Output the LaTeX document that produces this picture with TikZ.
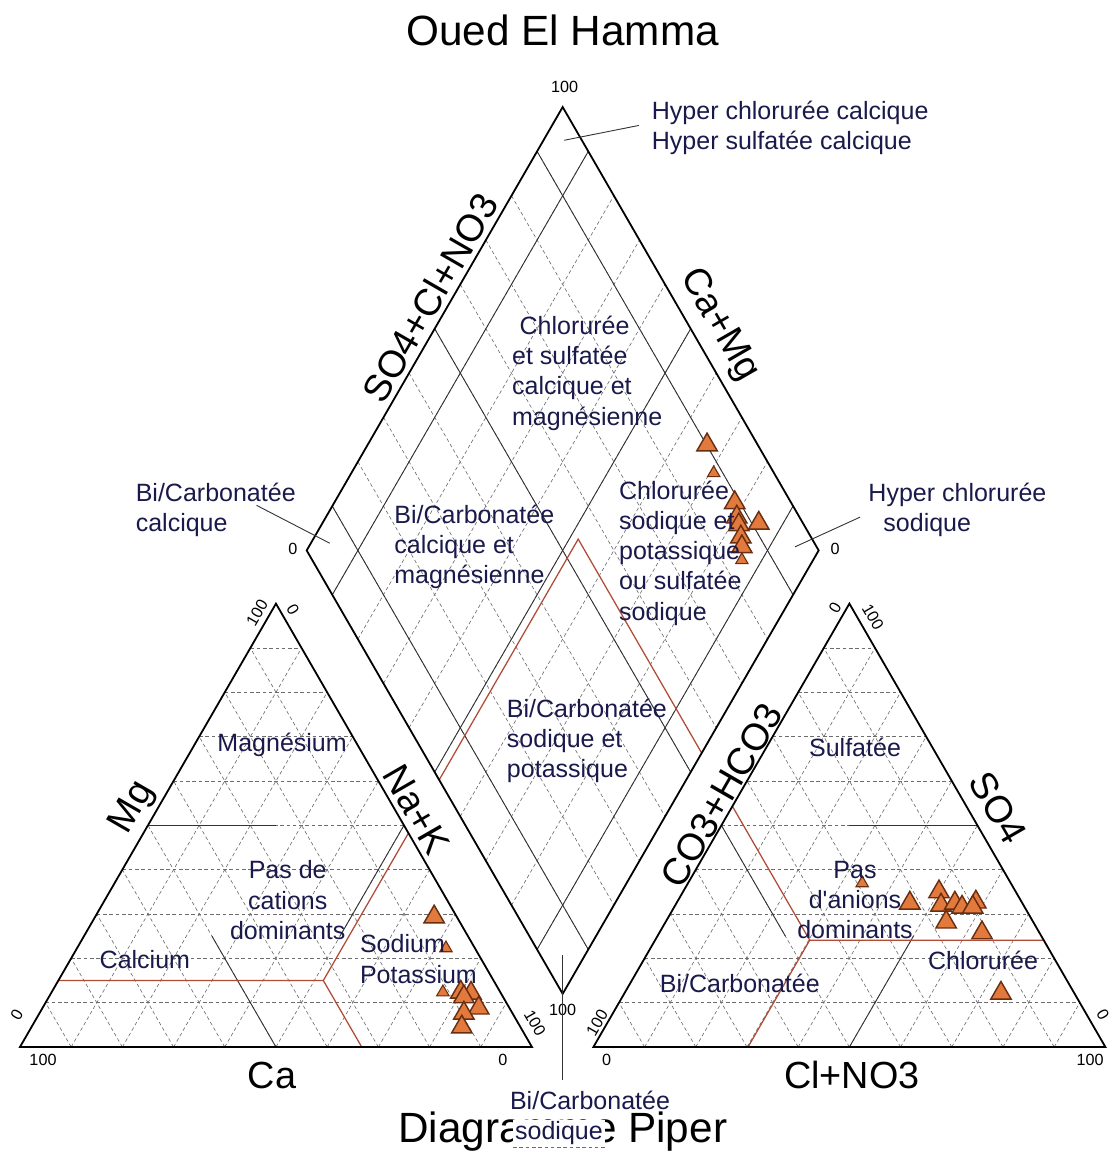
\documentclass[tikz,border=0pt]{standalone}
\usepackage{fontspec}
\setmainfont{Liberation Sans}
\usepackage{tikz}
\usetikzlibrary{calc,shapes}
\definecolor{navy}{RGB}{25,25,75}
\definecolor{ptfill}{RGB}{226,122,62}
\definecolor{ptdraw}{RGB}{105,45,15}
\definecolor{redline}{RGB}{175,75,55}
\tikzstyle{rim}=[black, line width=1pt, line join=miter]
\tikzstyle{gridline}=[gray!85!black, line width=0.35pt, dash pattern=on 2pt off 1.5pt]
\tikzstyle{bound}=[gray!40!black, line width=0.5pt]
\tikzstyle{field}=[redline, line width=0.7pt]
\tikzstyle{leader}=[gray!40!black, line width=0.5pt]
\tikzstyle{zone}=[text=navy, font=\fontsize{13.9}{16.8}\selectfont, inner sep=1pt]
\tikzstyle{axlbl}=[font=\fontsize{21}{21}\selectfont, inner sep=1pt]
\tikzstyle{ticklbl}=[font=\fontsize{9}{9}\selectfont, inner sep=0pt]
\tikzstyle{sample}=[regular polygon, regular polygon sides=3, draw=ptdraw, fill=ptfill,% orange markers
line width=0.8pt, minimum size=4.6mm, inner sep=0pt]
\tikzstyle{smallsample}=[sample, minimum size=2.8mm, line width=0.6pt]

\begin{document}
\begin{tikzpicture}
\useasboundingbox (-0.39,-2.07) rectangle (21.39,20.45);
% corners of the three fields
\coordinate (ca) at (0,0);
\coordinate (na) at (10,0);
\coordinate (mg) at (5,8.660);
\coordinate (hco) at (11.2,0);
\coordinate (cl) at (21.2,0);
\coordinate (so) at (16.2,8.660);
\coordinate (db) at (10.6,1.039);
\coordinate (dl) at (5.6,9.699);
\coordinate (dt) at (10.6,18.359);
\coordinate (dr) at (15.6,9.699);

% dashed 10% grid
\foreach \i in {1,...,9}{
  \draw[gridline] ($(ca)!\i/10!(mg)$) -- ($(na)!\i/10!(mg)$);
  \draw[gridline] ($(ca)!\i/10!(na)$) -- ($(mg)!\i/10!(na)$);
  \draw[gridline] ($(ca)!\i/10!(na)$) -- ($(ca)!\i/10!(mg)$);
  \draw[gridline] ($(hco)!\i/10!(so)$) -- ($(cl)!\i/10!(so)$);
  \draw[gridline] ($(hco)!\i/10!(cl)$) -- ($(so)!\i/10!(cl)$);
  \draw[gridline] ($(hco)!\i/10!(cl)$) -- ($(hco)!\i/10!(so)$);
  \draw[gridline] ($(dl)!\i/10!(dt)$) -- ($(db)!\i/10!(dr)$);
  \draw[gridline] ($(db)!\i/10!(dl)$) -- ($(dr)!\i/10!(dt)$);
}

% facies boundaries
\foreach \f in {0.1,0.5,0.9}{
  \draw[bound] ($(dl)!\f!(dt)$) -- ($(db)!\f!(dr)$);
  \draw[bound] ($(db)!\f!(dl)$) -- ($(dr)!\f!(dt)$);
}
\draw[bound] (2.5,4.330) -- (5,4.330);
\draw[bound] (5,0) -- (3.75,2.165);
\draw[bound] (6.25,2.165) -- (7.5,4.330);
\draw[bound] (16.2,4.330) -- (18.7,4.330);
\draw[bound] (16.2,0) -- (17.45,2.165);
\draw[bound] (13.7,4.330) -- (14.95,2.165);

% red lines
\draw[field] (0.75,1.299) -- (5.925,1.299) -- (6.675,0);
\draw[field] (5.925,1.299) -- (7.588,4.178);
\draw[field] (8.188,5.217) -- (10.903,9.920) -- (13.315,5.741);
\draw[field] (13.915,4.702) -- (15.425,2.087) -- (19.995,2.087);
\draw[field] (15.425,2.087) -- (14.22,0);

% outlines
\draw[rim] (ca) -- (na) -- (mg) -- cycle;
\draw[rim] (hco) -- (cl) -- (so) -- cycle;
\draw[rim] (db) -- (dr) -- (dt) -- (dl) -- cycle;

% samples
\foreach \x/\y [count=\k] in {13.42/11.76,13.96/10.63,14.00/10.35,14.43/10.23,14.04/10.20,14.08/9.96,14.10/9.77}
  \node[sample] (dia\k) at (\x,\y) {};
\foreach \x/\y [count=\k] in {13.55/11.21,14.10/9.51}
  \node[smallsample] (dias\k) at (\x,\y) {};
\foreach \x/\y [count=\k] in {8.09/2.54,8.61/1.07,8.81/1.05,8.67/0.98,8.96/0.76,8.67/0.66,8.63/0.39}
  \node[sample] (cat\k) at (\x,\y) {};
\foreach \x/\y [count=\k] in {8.32/1.93,8.26/1.07}
  \node[smallsample] (cats\k) at (\x,\y) {};
\foreach \x/\y [count=\k] in {17.38/2.81,17.95/3.03,17.99/2.77,18.26/2.81,18.40/2.73,18.67/2.83,18.61/2.73,18.09/2.44,18.79/2.23,19.16/1.05}
  \node[sample] (ani\k) at (\x,\y) {};
\node[smallsample] (anis1) at (16.45,3.20) {};

% zone names
\node[zone, anchor=west, align=left] (chlsul) at (9.57,13.16) {\hspace{0.3em}Chlorurée\\et sulfatée\\calcique et\\magnésienne};
\node[zone, anchor=west, align=left] (bicm) at (7.27,9.77) {Bi/Carbonatée\\calcique et\\magnésienne};
\node[zone, anchor=west, align=left] (chlna) at (11.66,9.65) {Chlorurée\\sodique et\\potassique\\ou sulfatée\\sodique};
\node[zone, anchor=west, align=left] (bina) at (9.47,5.98) {Bi/Carbonatée\\sodique et\\potassique};
\node[zone] (magn) at (5.12,5.90) {Magnésium};
\node[zone, align=center] (pascat) at (5.23,2.87) {Pas de\\cations\\dominants};
\node[zone] (calc) at (2.44,1.70) {Calcium};
\node[zone, anchor=west, align=left] (sodpot) at (6.60,1.72) {Sodium\\Potassium};
\node[zone] (sulf) at (16.31,5.86) {Sulfatée};
\node[zone, align=center] (pasan) at (16.31,2.87) {Pas\\d\textquotesingle anions\\dominants};
\node[zone] (bicarb) at (14.06,1.25) {Bi/Carbonatée};
\node[zone] (chlor) at (18.81,1.70) {Chlorurée};

% outside names with leaders
\node[zone, anchor=west, align=left] (hcc) at (12.30,17.95) {Hyper chlorurée calcique\\Hyper sulfatée calcique};
\coordinate (hccpt) at (10.63,17.71);
\coordinate (hccend) at (12.09,18.0);
\draw[leader] (hccpt) -- (hccend);
\node[zone, anchor=west, align=left] (bcc) at (2.22,10.49) {Bi/Carbonatée\\calcique};
\coordinate (bccpt) at (6.05,9.84);
\coordinate (bccend) at (4.62,10.58);
\draw[leader] (bccpt) -- (bccend);
\node[zone, anchor=west, align=left] (hcs) at (16.53,10.49) {Hyper chlorurée\\\hspace{0.6em}sodique};
\coordinate (hcspt) at (15.14,9.77);
\coordinate (hcsend) at (16.41,10.35);
\draw[leader] (hcspt) -- (hcsend);

% axis names
\node[axlbl, rotate=60] (anax) at (8.01,14.63) {SO4+Cl+NO3};
\node[axlbl, rotate=-60] (caax) at (13.65,14.10) {Ca+Mg};
\node[axlbl, rotate=-60] (nkax) at (7.75,4.63) {Na+K};
\node[axlbl, rotate=60] (hcax) at (13.71,4.92) {CO3+HCO3};
\node[axlbl, rotate=60] (mgax) at (2.21,4.67) {Mg};
\node[axlbl] (caxx) at (4.92,-0.55) {Ca};
\node[axlbl, rotate=-60] (soax) at (19.10,4.67) {SO4};
\node[axlbl] (clax) at (16.25,-0.55) {Cl+NO3};

% scale values
\node[ticklbl] (t1) at (10.64,18.75) {100};
\node[ticklbl] (t2) at (5.33,9.73) {0};
\node[ticklbl] (t3) at (15.92,9.73) {0};
\node[ticklbl, rotate=60] (t5) at (4.63,8.48) {100};
\node[ticklbl, rotate=-60] (t6) at (5.33,8.54) {0};
\node[ticklbl, rotate=60] (t7) at (-0.06,0.625) {0};
\node[ticklbl, rotate=-60] (t8) at (10.06,0.47) {100};
\node[ticklbl] (t9) at (0.45,-0.25) {100};
\node[ticklbl] (t10) at (9.43,-0.25) {0};
\node[ticklbl, rotate=60] (t11) at (15.92,8.57) {0};
\node[ticklbl, rotate=-60] (t12) at (16.66,8.40) {100};
\node[ticklbl, rotate=60] (t13) at (11.27,0.47) {100};
\node[ticklbl, rotate=-60] (t14) at (21.15,0.625) {0};
\node[ticklbl] (t15) at (11.46,-0.25) {0};
\node[ticklbl] (t16) at (20.9,-0.25) {100};

% titles
\node[font=\fontsize{23.5}{23.5}\selectfont] (title) at (10.6,19.86) {Oued El Hamma};
\node[font=\fontsize{23.5}{23.5}\selectfont] (piper) at (10.6,-1.66) {Diagramme Piper};

% bottom corner name
\node[ticklbl] (t4) at (10.6,0.72) {100};
\coordinate (bcspt) at (10.6,1.80);
\coordinate (bcsend) at (10.6,-0.64);
\draw[leader] (bcspt) -- (bcsend);
\node[zone, anchor=west] (bcs1) at (9.53,-1.035) {Bi/Carbonatée};
\node[zone, anchor=west, fill=white] (bcs2) at (9.63,-1.68) {sodique};
\draw[gridline] (bcs2.south west) -- (bcs2.south east);
\end{tikzpicture}
\end{document}
